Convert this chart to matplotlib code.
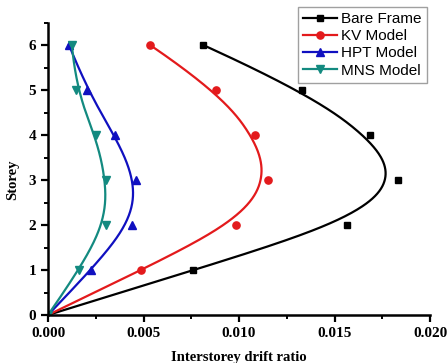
import numpy as np
import matplotlib
matplotlib.use("Agg")
import matplotlib.pyplot as plt
from matplotlib.ticker import MultipleLocator

storey = [0, 1, 2, 3, 4, 5, 6]
bare_frame = [0.0, 0.00759, 0.01565, 0.01832, 0.01686, 0.0133, 0.00812]
kv_model = [0.0, 0.00487, 0.00984, 0.01152, 0.01084, 0.0088, 0.00534]
hpt_model = [0.0, 0.00225, 0.0044, 0.0046, 0.0035, 0.00205, 0.0011]
mns_model = [0.0, 0.00163, 0.00304, 0.00304, 0.0025, 0.00147, 0.00125]

series = [
    ("Bare Frame", bare_frame, "black", "s", 4.5),
    ("KV Model", kv_model, "#e31a1c", "o", 5.2),
    ("HPT Model", hpt_model, "#1010c0", "^", 5.8),
    ("MNS Model", mns_model, "#138a80", "v", 5.8),
]


def bspline(px, py, k=3, n=300):
    """Clamped cubic B-spline with the data points as control points."""
    m = len(px)
    inner = np.arange(1, m - k)
    knots = np.concatenate([np.zeros(k + 1), inner, np.full(k + 1, m - k)]).astype(float)
    t = np.linspace(0, m - k, n)
    t[-1] -= 1e-9

    def basis(i, p, t):
        if p == 0:
            return ((knots[i] <= t) & (t < knots[i + 1])).astype(float)
        a = 0.0
        d1 = knots[i + p] - knots[i]
        if d1 > 0:
            a = (t - knots[i]) / d1 * basis(i, p - 1, t)
        b = 0.0
        d2 = knots[i + p + 1] - knots[i + 1]
        if d2 > 0:
            b = (knots[i + p + 1] - t) / d2 * basis(i + 1, p - 1, t)
        return a + b

    B = np.array([basis(i, k, t) for i in range(m)])
    return B.T @ np.asarray(px, float), B.T @ np.asarray(py, float)


fig = plt.figure(figsize=(4.48, 3.63), dpi=100)
ax = fig.add_axes([48/448, 1-315/363, (430-48)/448, (315-22.5)/363])

handles = []
for name, xs, col, mk, ms in series:
    cx, cy = bspline(xs, storey)
    ax.plot(cx, cy, color=col, lw=1.6)
    ax.plot(xs, storey, linestyle="none", marker=mk, color=col, ms=ms)
    h, = ax.plot([], [], color=col, lw=1.6, marker=mk, ms=ms)
    handles.append(h)

ax.set_xlim(0, 0.020)
ax.set_ylim(0, 6.5)
ax.xaxis.set_major_locator(MultipleLocator(0.005))
ax.xaxis.set_minor_locator(MultipleLocator(0.0025))
ax.yaxis.set_major_locator(MultipleLocator(1))
ax.yaxis.set_minor_locator(MultipleLocator(0.5))
ax.set_xticklabels([f"{v:.3f}" for v in ax.get_xticks()])
for s in ["top", "right"]:
    ax.spines[s].set_visible(False)
for s in ["left", "bottom"]:
    ax.spines[s].set_linewidth(1.8)
ax.tick_params(which="major", direction="out", length=5, width=1.6)
ax.tick_params(which="minor", direction="out", length=3, width=1.4)
for lab in ax.get_xticklabels() + ax.get_yticklabels():
    lab.set_fontfamily("Liberation Serif")
    lab.set_fontweight("bold")
    lab.set_fontsize(11)

fig.text(239/448, 1-358/363, "Interstorey drift ratio", ha="center", va="center",
         fontfamily="Liberation Serif", fontweight="bold", fontsize=10.5)
fig.text(13/448, 1-180/363, "Storey", ha="center", va="center", rotation=90,
         fontfamily="Liberation Serif", fontweight="bold", fontsize=10.5)

leg = fig.legend(handles, [s[0] for s in series], loc="upper right",
                 bbox_to_anchor=(427/448, 1-7/363), prop={"family": "Liberation Sans", "size": 11},
                 frameon=True, fancybox=False, edgecolor="#888888", labelspacing=0.2,
                 handlelength=2.2, handletextpad=0.3, borderpad=0.35, borderaxespad=0)
leg.get_frame().set_linewidth(1.0)

fig.savefig("out.png", dpi=100)
